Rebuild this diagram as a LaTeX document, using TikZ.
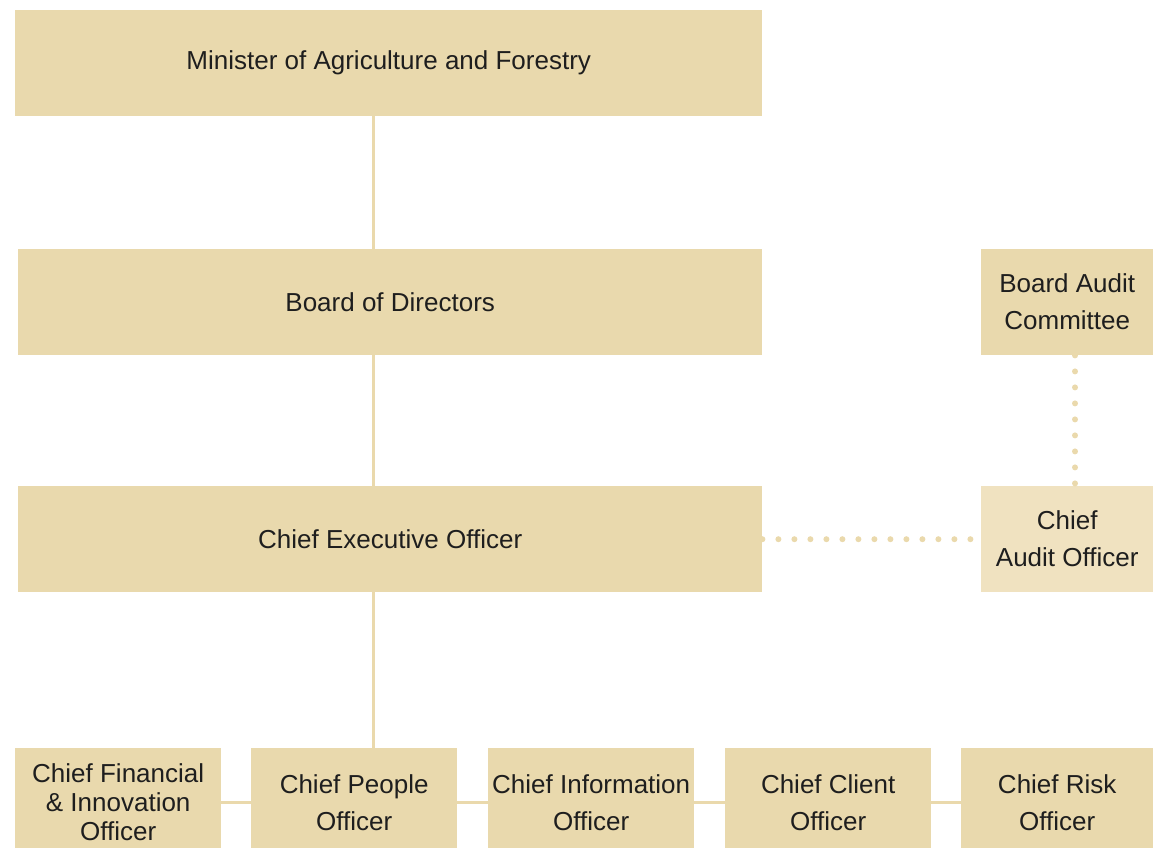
\documentclass[tikz,border=0pt]{standalone}
\usepackage{fontspec}
\setmainfont{Liberation Sans}
\definecolor{boxc}{HTML}{E9D9AD}
\definecolor{auditc}{HTML}{F0E2C0}
\definecolor{linec}{HTML}{EAD9AC}
\definecolor{txt}{HTML}{1E1E1E}
\begin{document}
\begin{tikzpicture}[x=1pt,y=-1pt,
  box/.style={fill=boxc, draw=none, inner sep=0pt, align=center, anchor=north west,
    text=txt, font=\fontsize{26}{37}\selectfont},
  wide/.style={box, minimum width=744pt, minimum height=106pt},
  side/.style={box, minimum width=172pt, minimum height=106pt},
  low/.style={box, minimum width=206pt, minimum height=108pt},
  conn/.style={draw=linec, line width=3pt},
  dots/.style={draw=linec, line width=6pt, line cap=round, dash pattern=on 0pt off 16pt}]
\useasboundingbox (0,0) rectangle (1153,848);
\clip (0,0) rectangle (1153,848);
\coordinate (spine) at (373,0);
\coordinate (auditx) at (1075,0);
% nodes
\node[wide, minimum width=747pt] (min) at (15,10) {Minister of Agriculture and Forestry};
\node[wide] (board) at (18,249) {Board of Directors};
\node[wide] (ceo) at (18,486) {Chief Executive Officer};
\node[side] (bac) at (981,249) {Board Audit\\Committee};
\node[side, fill=auditc] (cao) at (981,486) {Chief\\Audit Officer};
\node[low, font=\fontsize{26}{29}\selectfont] (cfio) at (15,748) {Chief Financial\\\& Innovation\\Officer};
\node[low] (cpo) at (251,748) {Chief People\\Officer};
\node[low] (cio) at (488,748) {Chief Information\\Officer};
\node[low] (cco) at (725,748) {Chief Client\\Officer};
\node[low, minimum width=192pt] (cro) at (961,748) {Chief Risk\\Officer};
% connectors
\draw[conn] (min.south -| spine) -- (board.north -| spine);
\draw[conn] (board.south -| spine) -- (ceo.north -| spine);
\draw[conn] (ceo.south -| spine) -- (cpo.north -| spine);
\draw[conn] (cfio.east) -- (cpo.west);
\draw[conn] (cpo.east) -- (cio.west);
\draw[conn] (cio.east) -- (cco.west);
\draw[conn] (cco.east) -- (cro.west);
\draw[dots] (ceo.east) -- (cao.west);
\draw[dots] (bac.south -| auditx) -- (cao.north -| auditx);
\end{tikzpicture}
\end{document}
